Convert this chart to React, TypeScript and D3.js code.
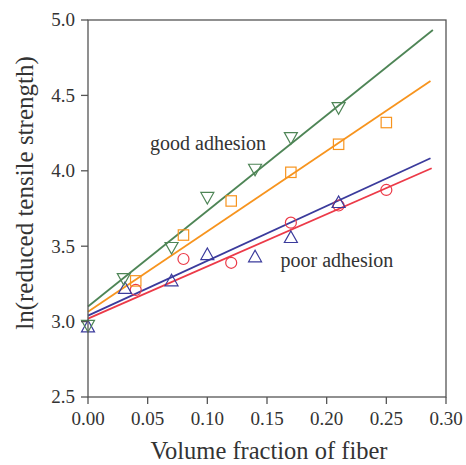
import React from "react";
import * as d3 from "d3";

const xTicks = [0, 0.05, 0.1, 0.15, 0.2, 0.25, 0.3];
const yTicks = [2.5, 3.0, 3.5, 4.0, 4.5, 5.0];

const goodTriX = [0.0, 0.03, 0.07, 0.10, 0.14, 0.17, 0.21];
const goodTriY = [2.97, 3.28, 3.486, 3.818, 4.005, 4.215, 4.414];
const goodSqX = [0.04, 0.08, 0.12, 0.17, 0.21, 0.25];
const goodSqY = [3.27, 3.574, 3.80, 3.99, 4.176, 4.32];
const poorTriX = [0.0, 0.031, 0.07, 0.10, 0.14, 0.17, 0.21];
const poorTriY = [2.97, 3.225, 3.276, 3.45, 3.435, 3.563, 3.795];
const poorCircX = [0.04, 0.08, 0.12, 0.17, 0.21, 0.25];
const poorCircY = [3.21, 3.415, 3.39, 3.656, 3.77, 3.873];

// fitted lines: [x0, y0, x1, y1]
const fitGreen = [0, 3.10, 0.289, 4.934];
const fitOrange = [0, 3.065, 0.287, 4.595];
const fitBlue = [0, 3.04, 0.287, 4.083];
const fitRed = [0, 3.02, 0.288, 4.017];

const GREEN = "#4e8556";
const ORANGE = "#f7941e";
const BLUE = "#3b3b9c";
const RED = "#ec3a48";
const AXIS = "#555";
const TEXT = "#333";
const FONT = "Liberation Serif, Times New Roman, serif";

export default function App() {
  const W = 466, H = 465;
  const L = 88, R = 446, T = 20, B = 397;
  const x = d3.scaleLinear().domain([0, 0.3]).range([L, R]);
  const y = d3.scaleLinear().domain([2.5, 5.0]).range([B, T]);
  const line = d3.line<number[]>().x((d) => x(d[0])).y((d) => y(d[1]));

  const fitPath = (f: number[]) => line([[f[0], f[1]], [f[2], f[3]]]) || "";

  const downTri = (cx: number, cy: number) => {
    const w = 6.5, h = 5.8;
    return `M${cx - w},${cy - h}L${cx + w},${cy - h}L${cx},${cy + h}Z`;
  };
  const upTri = (cx: number, cy: number) => {
    const w = 6.5, h = 5.8;
    return `M${cx - w},${cy + h}L${cx + w},${cy + h}L${cx},${cy - h}Z`;
  };

  return (
    <svg width={W} height={H} style={{ display: "block", position: "absolute", left: 0, top: 0 }}>
      <rect x={0} y={0} width={W} height={H} fill="#fff" />
      {/* fit lines */}
      <path d={fitPath(fitRed)} stroke={RED} strokeWidth={1.8} fill="none" />
      <path d={fitPath(fitBlue)} stroke={BLUE} strokeWidth={1.8} fill="none" />
      <path d={fitPath(fitOrange)} stroke={ORANGE} strokeWidth={1.8} fill="none" />
      <path d={fitPath(fitGreen)} stroke={GREEN} strokeWidth={1.8} fill="none" />
      {/* markers */}
      {poorCircX.map((v, i) => (
        <circle key={"c" + i} cx={x(v)} cy={y(poorCircY[i])} r={5.5} fill="none" stroke={RED} strokeWidth={1.2} />
      ))}
      {poorTriX.map((v, i) => (
        <path key={"pt" + i} d={upTri(x(v), y(poorTriY[i]))} fill="none" stroke={BLUE} strokeWidth={1.2} />
      ))}
      {goodSqX.map((v, i) => (
        <rect key={"s" + i} x={x(v) - 5.2} y={y(goodSqY[i]) - 5.2} width={10.4} height={10.4} fill="none" stroke={ORANGE} strokeWidth={1.2} />
      ))}
      {goodTriX.map((v, i) => (
        <path key={"gt" + i} d={downTri(x(v), y(goodTriY[i]))} fill="none" stroke={GREEN} strokeWidth={1.2} />
      ))}
      {/* frame */}
      <rect x={L} y={T} width={R - L} height={B - T} fill="none" stroke={AXIS} strokeWidth={1.3} />
      {/* y ticks */}
      {yTicks.map((t) => (
        <g key={"y" + t}>
          <line x1={L - 7} x2={L} y1={y(t)} y2={y(t)} stroke={AXIS} strokeWidth={1.3} />
          <text x={75} y={y(t)} dy="0.34em" textAnchor="end" fontFamily={FONT} fontSize={19} fill={TEXT}>
            {t.toFixed(1)}
          </text>
        </g>
      ))}
      {xTicks.map((t) => (
        <g key={"x" + t}>
          <line x1={x(t)} x2={x(t)} y1={B} y2={B + 7} stroke={AXIS} strokeWidth={1.3} />
          <text x={x(t)} y={425} textAnchor="middle" fontFamily={FONT} fontSize={19} fill={TEXT}>
            {t.toFixed(2)}
          </text>
        </g>
      ))}
      <text x={(L + R) / 2 + 2} y={459} textAnchor="middle" fontFamily={FONT} fontSize={24.5} fill={TEXT}>
        Volume fraction of fiber
      </text>
      <text transform={`translate(33,193) rotate(-90)`} textAnchor="middle" fontFamily={FONT} fontSize={25} fill={TEXT}>
        ln(reduced tensile strength)
      </text>
      <text x={150} y={150} fontFamily={FONT} fontSize={20} fill={TEXT}>good adhesion</text>
      <text x={280.5} y={267} fontFamily={FONT} fontSize={20} fill={TEXT}>poor adhesion</text>
    </svg>
  );
}
